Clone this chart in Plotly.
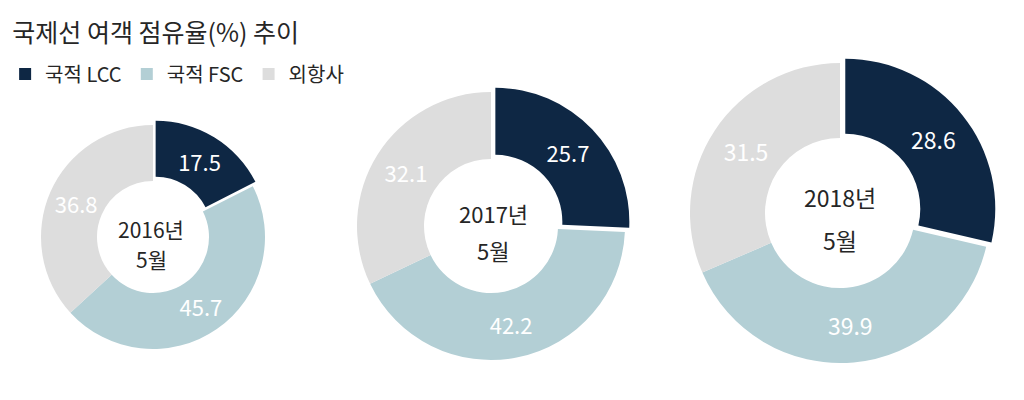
import plotly.graph_objects as go

# ---- data ----
categories = ["국적 LCC", "국적 FSC", "외항사"]
period_years = ["2016년", "2017년", "2018년"]
period_months = ["5월", "5월", "5월"]
share_2016 = [17.5, 45.7, 36.8]
share_2017 = [25.7, 42.2, 32.1]
share_2018 = [28.6, 39.9, 31.5]
title_text = "국제선 여객 점유율(%) 추이"

# ---- styles / layout ----
colors = ["#0E2744", "#B3CFD5", "#DDDDDD"]
FONT = "Noto Sans CJK KR, Noto Sans, sans-serif"
W, H = 1024, 400
PULL = 0.045
# pixel centre (cx, cy) and outer radius of each donut
geom = [(153, 237, 112), (491, 226, 134), (840, 213, 150)]
center_sizes = [21, 22, 23]
label_sizes = [22, 22, 23]
# centre-text line positions (px): x, y of first line, y of second line
center_text_pos = [(151, 229, 259), (493, 213, 250), (840, 197, 240)]

fig = go.Figure()
for i, vals in enumerate([share_2016, share_2017, share_2018]):
    cx, cy, r = geom[i]
    half = r * (1 + PULL)
    x0, x1 = (cx - half) / W, (cx + half) / W
    y0, y1 = 1 - (cy + half) / H, 1 - (cy - half) / H
    fig.add_trace(go.Pie(
        labels=categories,
        values=vals,
        sort=False,
        direction="clockwise",
        rotation=0,
        hole=0.5,
        pull=[PULL, 0, 0],
        marker=dict(colors=colors, line=dict(width=0)),
        textinfo="value",
        texttemplate="%{value:.1f}",
        textposition="inside",
        insidetextorientation="horizontal",
        textfont=dict(color="white", size=label_sizes[i], family=FONT),
        domain=dict(x=[x0, x1], y=[y0, y1]),
        showlegend=(i == 0),
        hoverinfo="label+value",
    ))
    tx, ty1, ty2 = center_text_pos[i]
    for txt, ty in ((period_years[i], ty1), (period_months[i], ty2)):
        fig.add_annotation(
            text=txt, xref="paper", yref="paper",
            x=tx / W, y=1 - ty / H, xanchor="center", yanchor="middle",
            showarrow=False,
            font=dict(size=center_sizes[i], color="#262626", family=FONT),
        )

fig.update_layout(
    width=W, height=H,
    margin=dict(l=0, r=0, t=0, b=0),
    paper_bgcolor="white",
    plot_bgcolor="white",
    font=dict(family=FONT, color="#262626"),
    title=dict(text=title_text, x=0.012, xanchor="left", y=1 - 33 / H, yanchor="middle",
               font=dict(size=25, color="#262626", family=FONT)),
    legend=dict(orientation="h", x=0.005, xanchor="left", y=1 - 74 / H, yanchor="middle",
                font=dict(size=20, color="#262626", family=FONT),
                traceorder="normal", itemclick=False, bgcolor="rgba(0,0,0,0)"),
    uniformtext=dict(minsize=22, mode="show"),
)

fig.write_html("out.html")
